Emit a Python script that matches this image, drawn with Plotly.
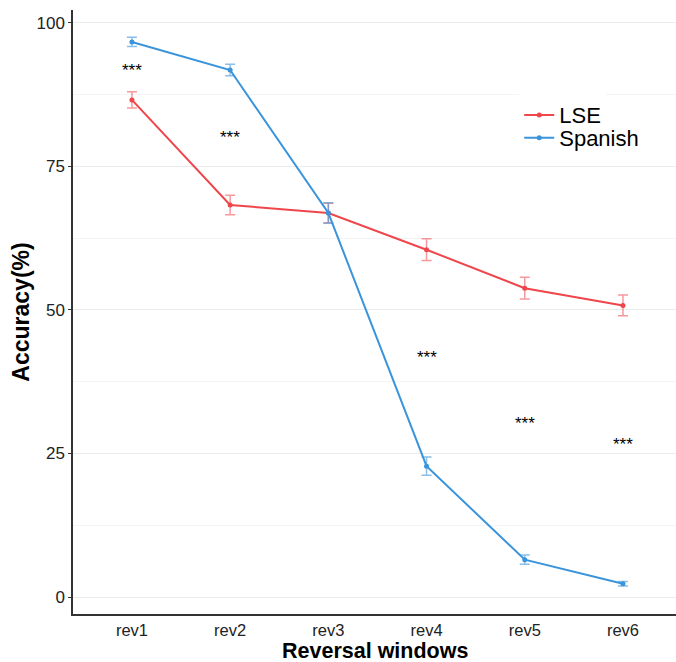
import plotly.graph_objects as go

windows = ["rev1", "rev2", "rev3", "rev4", "rev5", "rev6"]
lse_mean = [86.6, 68.3, 66.9, 60.5, 53.8, 50.8]
lse_err = [1.4, 1.7, 1.7, 1.9, 1.9, 1.8]
spa_mean = [96.7, 91.8, 66.9, 22.8, 6.5, 2.3]
spa_err = [0.8, 1.0, 1.8, 1.6, 0.8, 0.4]
star_y = [91.7, 80.0, 41.7, 30.2, 26.6]
star_x = ["rev1", "rev2", "rev4", "rev5", "rev6"]
star_label = "***"
y_ticks = [0, 25, 50, 75, 100]

RED = "#EF464C"
BLUE = "#3A94DB"
xi = {w: i + 1 for i, w in enumerate(windows)}
xs = [xi[w] for w in windows]

fig = go.Figure()
fig.add_trace(go.Scatter(
    x=xs, y=lse_mean, name="LSE", mode="lines+markers", legend="legend",
    line=dict(color=RED, width=2), marker=dict(color=RED, size=5),
    error_y=dict(type="data", array=lse_err, color="rgba(239,70,76,0.55)", thickness=1.5, width=5),
))
fig.add_trace(go.Scatter(
    x=xs, y=spa_mean, name="Spanish", mode="lines+markers", legend="legend2",
    line=dict(color=BLUE, width=2), marker=dict(color=BLUE, size=5),
    error_y=dict(type="data", array=spa_err, color="rgba(58,148,219,0.6)", thickness=1.5, width=5),
))

for sx, sy in zip(star_x, star_y):
    fig.add_annotation(x=xi[sx], y=sy, text=star_label, showarrow=False,
                       font=dict(family="Liberation Sans", size=17, color="#000"),
                       xanchor="center", yanchor="middle")

# x-axis title
fig.add_annotation(x=0.5, y=0, xref="paper", yref="paper", yshift=-37,
                   text="<b>Reversal windows</b>", showarrow=False,
                   xanchor="center", yanchor="middle", borderpad=0,
                   font=dict(family="Liberation Sans", size=21.5, color="#000"))

leg_common = dict(x=0.74, xanchor="left", yanchor="middle",
                  font=dict(family="Liberation Sans", size=22, color="#000"),
                  borderwidth=0, itemwidth=30)
fig.update_layout(
    width=676, height=662,
    margin=dict(l=73, r=0, t=10, b=48, autoexpand=False),
    paper_bgcolor="white", plot_bgcolor="white",
    font=dict(family="Liberation Sans", color="#222"),
    showlegend=True,
    legend=dict(y=0.826, bgcolor="white", **leg_common),
    legend2=dict(y=0.788, bgcolor="rgba(0,0,0,0)", **leg_common),
)
fig.update_xaxes(
    range=[0.4, 6.54], tickmode="array", tickvals=xs, ticktext=windows,
    showgrid=False, zeroline=False, showline=True, linecolor="#333", linewidth=1.5,
    ticks="", automargin=False,
    tickfont=dict(family="Liberation Sans", size=16.5, color="#222"),
)
fig.update_yaxes(
    range=[-2.96, 102.26], tickmode="array", tickvals=y_ticks,
    showgrid=True, gridcolor="#EBEBEB", gridwidth=1,
    minor=dict(tickmode="array", tickvals=[12.5, 37.5, 62.5, 87.5], showgrid=True, gridcolor="#F4F4F4", gridwidth=1),
    zeroline=False, showline=True, linecolor="#333", linewidth=1.5,
    ticks="outside", ticklen=3, tickcolor="#333", automargin=False,
    tickfont=dict(family="Liberation Sans", size=17, color="#222"),
    title=dict(text="<b>Accuracy(%)</b>", standoff=0,
               font=dict(family="Liberation Sans", size=23, color="#000")),
)

fig.write_html("out.html")
